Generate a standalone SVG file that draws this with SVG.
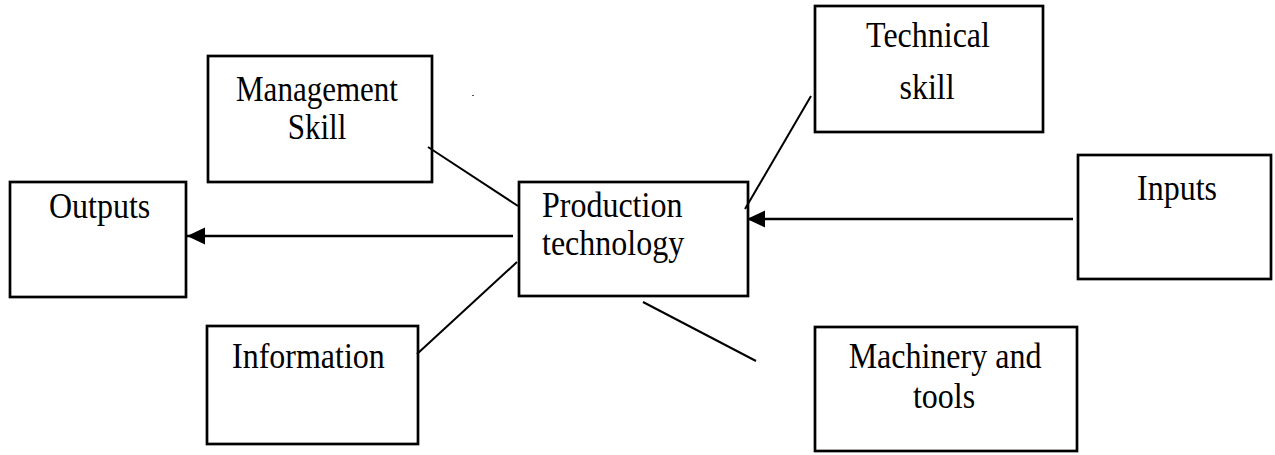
<svg xmlns="http://www.w3.org/2000/svg" width="1275" height="455" viewBox="0 0 1275 455">
  <style>
    .box { fill: #ffffff; stroke: #000000; stroke-width: 2.7; }
    .lbl { font-family: "Liberation Serif", "Times New Roman", serif; font-size: 32px; fill: #000000; }
    .mid { text-anchor: middle; }
    .conn { stroke: #000000; stroke-width: 2; fill: none; }
    .arrow { stroke: #000000; stroke-width: 2.6; fill: none; marker-end: url(#head); }
  </style>
  <defs>
    <marker id="head" markerUnits="userSpaceOnUse" markerWidth="20" markerHeight="20" refX="18" refY="8.5" orient="auto">
      <path d="M0,0 L18,8.5 L0,17 z" fill="#000000"/>
    </marker>
  </defs>
  <rect width="1275" height="455" fill="#ffffff"/>

  <g id="management-skill">
    <rect class="box" x="208" y="56" width="224" height="126"/>
    <text class="lbl mid" transform="translate(317,101) scale(0.97,1.1)">Management</text>
    <text class="lbl mid" transform="translate(317,139) scale(0.97,1.1)">Skill</text>
  </g>
  <g id="outputs">
    <rect class="box" x="10" y="182" width="176" height="115"/>
    <text class="lbl" transform="translate(49,218) scale(1,1.1)">Outputs</text>
  </g>
  <g id="production-technology">
    <rect class="box" x="519" y="182" width="229" height="114"/>
    <text class="lbl" transform="translate(542,217) scale(1,1.1)">Production</text>
    <text class="lbl" transform="translate(542,255) scale(1,1.1)">technology</text>
  </g>
  <g id="technical-skill">
    <rect class="box" x="815" y="6" width="228" height="126"/>
    <text class="lbl mid" transform="translate(928,47) scale(1,1.1)">Technical</text>
    <text class="lbl mid" transform="translate(927,99) scale(1,1.1)">skill</text>
  </g>
  <g id="inputs">
    <rect class="box" x="1078" y="155" width="193" height="124"/>
    <text class="lbl mid" transform="translate(1177,200) scale(1,1.1)">Inputs</text>
  </g>
  <g id="information">
    <rect class="box" x="207" y="326" width="211" height="118"/>
    <text class="lbl" transform="translate(232,368) scale(1,1.1)">Information</text>
  </g>
  <g id="machinery-and-tools">
    <rect class="box" x="815" y="327" width="262" height="124"/>
    <text class="lbl mid" transform="translate(945,368) scale(1,1.1)">Machinery and</text>
    <text class="lbl mid" transform="translate(944,408) scale(1,1.1)">tools</text>
  </g>

  <g id="connectors">
    <line class="conn" x1="428" y1="147" x2="518" y2="206"/>
    <line class="conn" x1="417" y1="354" x2="517" y2="262"/>
    <line class="conn" x1="811" y1="96" x2="745" y2="209"/>
    <line class="conn" x1="643" y1="302" x2="756" y2="361"/>
    <line class="arrow" x1="513" y1="236" x2="187" y2="236"/>
    <line class="arrow" x1="1073" y1="219" x2="747" y2="219"/>
  </g>
  <rect x="472" y="95" width="2" height="1" fill="#555555"/>
</svg>
